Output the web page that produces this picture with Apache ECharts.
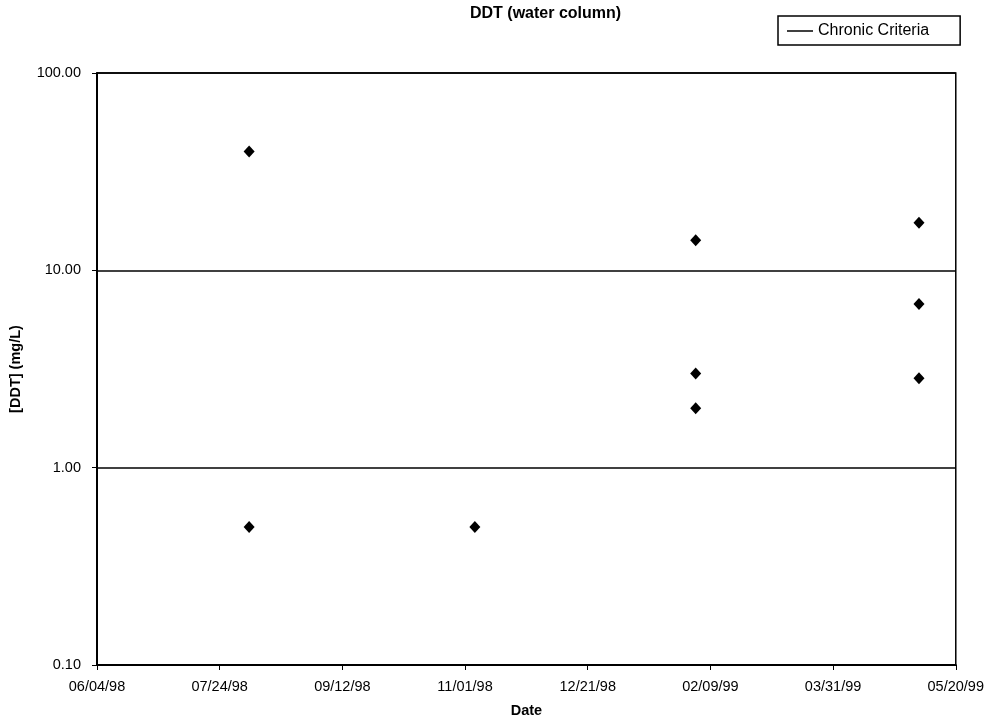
<!DOCTYPE html>
<html>
<head>
<meta charset="utf-8">
<script src="https://cdn.jsdelivr.net/npm/echarts@6/dist/echarts.min.js"></script>
<style>html,body{margin:0;padding:0;background:#fff}#c{width:987px;height:725px}</style>
</head>
<body>
<div id="c"></div>
<script>
// Data
const sampleDates = ['1998-08-05','1998-08-05','1998-11-05','1999-02-03','1999-02-03','1999-02-03','1999-05-05','1999-05-05','1999-05-05'];
const ddtValues = [40, 0.5, 0.5, 14.2, 3.0, 2.0, 17.4, 6.75, 2.84];
const xTickLabels = ['06/04/98','07/24/98','09/12/98','11/01/98','12/21/98','02/09/99','03/31/99','05/20/99'];
const startDate = '1998-06-04';
const chronicCriteria = [];

const DAY = 86400000;
const t0 = Date.parse(startDate);
const points = sampleDates.map((d, i) => [(Date.parse(d) - t0) / DAY, ddtValues[i]]);

const font = 'Liberation Sans, Arial, sans-serif';
const chart = echarts.init(document.getElementById('c'));
chart.setOption({
  backgroundColor: '#fff',
  animation: false,
  title: {
    text: 'DDT (water column)',
    left: 470, top: 6, padding: 0,
    textStyle: { fontFamily: font, fontSize: 16, fontWeight: 'bold', color: '#000' }
  },
  legend: {
    data: [{ name: 'Chronic Criteria', icon: 'rect' }],
    left: 778, top: 16,
    padding: [7, 31, 6, 9],
    borderColor: '#000', borderWidth: 1.5,
    itemWidth: 26, itemHeight: 1.5, itemGap: 5,
    itemStyle: { color: '#000' },
    textStyle: { fontFamily: font, fontSize: 16, color: '#000' }
  },
  grid: { left: 95, right: 31, top: 73, bottom: 60, show: true, borderColor: '#000', borderWidth: 1.5 },
  xAxis: {
    type: 'value', min: 0, max: 350, interval: 50,
    name: 'Date', nameLocation: 'middle', nameGap: 38,
    nameTextStyle: { fontFamily: font, fontSize: 14.5, fontWeight: 'bold', color: '#000' },
    axisLine: { show: true, lineStyle: { color: '#000', width: 2 } },
    axisTick: { show: true, length: 5, lineStyle: { color: '#000', width: 1 } },
    axisLabel: {
      margin: 14, fontFamily: font, fontSize: 14.5, color: '#000',
      formatter: v => xTickLabels[Math.round(v / 50)] || ''
    },
    splitLine: { show: false }
  },
  yAxis: {
    type: 'log', logBase: 10, min: 0.1, max: 100,
    name: '[DDT] (mg/L)', nameLocation: 'middle', nameGap: 74,
    nameTextStyle: { fontFamily: font, fontSize: 14.5, fontWeight: 'bold', color: '#000' },
    axisLine: { show: true, lineStyle: { color: '#000', width: 2 } },
    axisTick: { show: true, length: 5, lineStyle: { color: '#000', width: 1 } },
    axisLabel: {
      margin: 16, fontFamily: font, fontSize: 14.5, color: '#000',
      formatter: v => Number(v).toFixed(2)
    },
    splitLine: { show: true, lineStyle: { color: '#000', width: 1.5 } },
    minorTick: { show: false }
  },
  series: [
    {
      name: 'DDT', type: 'scatter', data: points,
      symbol: 'diamond', symbolSize: [11, 12],
      itemStyle: { color: '#000', opacity: 1 }
    },
    {
      name: 'Chronic Criteria', type: 'line', data: chronicCriteria,
      symbol: 'none',
      itemStyle: { color: '#000' },
      lineStyle: { color: '#000', width: 1.5 }
    }
  ]
});
</script>
</body>
</html>
